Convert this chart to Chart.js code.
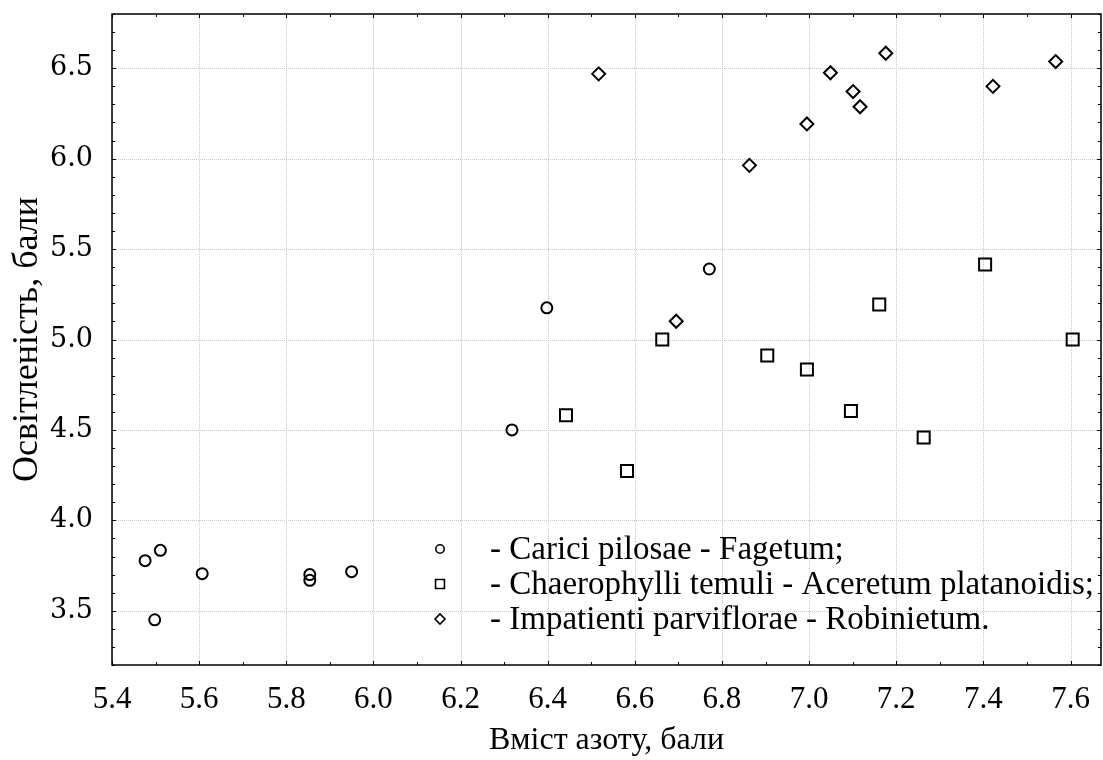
<!DOCTYPE html>
<html>
<head>
<meta charset="utf-8">
<script src="https://cdn.jsdelivr.net/npm/chart.js@4/dist/chart.umd.min.js"></script>
<style>
  html, body { margin: 0; padding: 0; background: #fff; }
  #wrap { width: 1103px; height: 760px; }
</style>
</head>
<body>
<div id="wrap"><canvas id="scatter"></canvas></div>
<script>
// Carici pilosae - Fagetum
const circleX = [5.476, 5.511, 5.607, 5.854, 5.854, 5.950, 5.498, 6.318, 6.398, 6.771];
const circleY = [3.777, 3.834, 3.705, 3.700, 3.668, 3.716, 3.450, 4.500, 5.175, 5.390];
// Chaerophylli temuli - Aceretum platanoidis
const squareX = [6.442, 6.582, 6.663, 6.904, 6.995, 7.096, 7.161, 7.263, 7.404, 7.605];
const squareY = [4.581, 4.273, 5.000, 4.912, 4.834, 4.605, 5.194, 4.458, 5.415, 5.000];
// Impatienti parviflorae - Robinietum
const diamondX = [6.517, 6.695, 6.863, 6.995, 7.049, 7.101, 7.117, 7.176, 7.422, 7.566];
const diamondY = [6.469, 5.101, 5.963, 6.192, 6.475, 6.371, 6.287, 6.583, 6.400, 6.537];

const seriesLabels = [
  "- Carici pilosae - Fagetum;",
  "- Chaerophylli temuli - Aceretum platanoidis;",
  "- Impatienti parviflorae - Robinietum."
];
const xTicks = [5.4, 5.6, 5.8, 6.0, 6.2, 6.4, 6.6, 6.8, 7.0, 7.2, 7.4, 7.6];
const yTicks = [3.5, 4.0, 4.5, 5.0, 5.5, 6.0, 6.5];
const xTitle = "Вміст азоту, бали";
const yTitle = "Освітленість, бали";

const toPoints = (xs, ys) => xs.map((x, i) => ({ x: x, y: ys[i] }));

// grid, frame and inward ticks
const framePlugin = {
  id: "frame",
  beforeDatasetsDraw(chart) {
    const { ctx, chartArea: a, scales } = chart;
    const xs = scales.x, ys = scales.y;
    ctx.save();
    ctx.strokeStyle = "#c8c8c8";
    ctx.lineWidth = 1;
    ctx.setLineDash([1, 1]);
    xTicks.forEach(v => {
      const px = Math.round(xs.getPixelForValue(v)) + 0.5;
      ctx.beginPath(); ctx.moveTo(px, a.top); ctx.lineTo(px, a.bottom); ctx.stroke();
    });
    yTicks.forEach(v => {
      const py = Math.round(ys.getPixelForValue(v)) + 0.5;
      ctx.beginPath(); ctx.moveTo(a.left, py); ctx.lineTo(a.right, py); ctx.stroke();
    });
    ctx.setLineDash([]);
    ctx.strokeStyle = "#000";
    ctx.lineWidth = 1;
    // minor ticks every 0.1
    for (let k = Math.ceil(xs.min * 10); k <= Math.floor(xs.max * 10); k++) {
      const px = Math.round(xs.getPixelForValue(k / 10)) + 0.5;
      const len = k % 2 === 0 ? 4 : 3;
      ctx.beginPath();
      ctx.moveTo(px, a.bottom); ctx.lineTo(px, a.bottom - len);
      ctx.moveTo(px, a.top); ctx.lineTo(px, a.top + len);
      ctx.stroke();
    }
    for (let k = Math.ceil(ys.min * 10); k <= Math.floor(ys.max * 10); k++) {
      const py = Math.round(ys.getPixelForValue(k / 10)) + 0.5;
      const len = k % 5 === 0 ? 4 : 3;
      ctx.beginPath();
      ctx.moveTo(a.left, py); ctx.lineTo(a.left + len, py);
      ctx.moveTo(a.right, py); ctx.lineTo(a.right - len, py);
      ctx.stroke();
    }
    ctx.lineWidth = 1.5;
    ctx.strokeRect(a.left, a.top, a.right - a.left, a.bottom - a.top);
    ctx.restore();
  }
};

// legend inside the plot
const legendPlugin = {
  id: "innerLegend",
  afterDraw(chart) {
    const { ctx, chartArea: a } = chart;
    const styles = ["circle", "rect", "rectRot"];
    const radii = [4.2, 6.3, 5];
    ctx.save();
    ctx.font = "33px 'Liberation Serif'";
    ctx.textBaseline = "middle";
    ctx.lineWidth = 1.6;
    seriesLabels.forEach((label, i) => {
      const y = a.top + 535 + i * 35;
      ctx.fillStyle = "#fff";
      ctx.strokeStyle = "#000";
      Chart.helpers.drawPoint(ctx, { pointStyle: styles[i], radius: radii[i], borderWidth: 1.6 }, a.left + 328, y);
      ctx.fillStyle = "#000";
      ctx.fillText(label, a.left + 378, y + 1);
    });
    ctx.restore();
  }
};

const ds = (label, xs, ys, style, r) => ({
  label: label,
  data: toPoints(xs, ys),
  pointStyle: style,
  pointRadius: r,
  pointHoverRadius: r,
  pointBorderWidth: 2,
  pointBorderColor: "#000",
  pointBackgroundColor: "rgba(0,0,0,0)",
  showLine: false
});

new Chart(document.getElementById("scatter"), {
  type: "scatter",
  data: {
    datasets: [
      ds(seriesLabels[0], circleX, circleY, "circle", 5.5),
      ds(seriesLabels[1], squareX, squareY, "rect", 8.5),
      ds(seriesLabels[2], diamondX, diamondY, "rectRot", 6.5)
    ]
  },
  options: {
    responsive: true,
    maintainAspectRatio: false,
    animation: false,
    layout: { autoPadding: false, padding: { top: 14, right: 2, left: 0, bottom: 0 } },
    plugins: {
      legend: { display: false },
      tooltip: { enabled: false }
    },
    scales: {
      x: {
        type: "linear",
        min: 5.4,
        max: 7.67,
        afterBuildTicks: s => { s.ticks = xTicks.map(v => ({ value: v })); },
        afterFit: s => { s.height = 95; s.paddingLeft = 0; s.paddingRight = 0; },
        grid: { display: false },
        border: { display: false },
        ticks: {
          color: "#000",
          padding: 8,
          font: { family: "'Liberation Serif'", size: 31 },
          callback: v => v.toFixed(1)
        },
        title: {
          display: true,
          text: xTitle,
          color: "#000",
          font: { family: "'Liberation Serif'", size: 32 },
          padding: { top: 0, bottom: 0 }
        }
      },
      y: {
        type: "linear",
        min: 3.2,
        max: 6.8,
        afterBuildTicks: s => { s.ticks = yTicks.map(v => ({ value: v })); },
        afterFit: s => { s.width = 112; s.paddingTop = 0; s.paddingBottom = 0; },
        grid: { display: false },
        border: { display: false },
        ticks: {
          color: "#000",
          padding: 11,
          font: { family: "'DejaVu Serif'", size: 27 },
          callback: v => v.toFixed(1)
        },
        title: {
          display: true,
          text: yTitle,
          color: "#000",
          font: { family: "'Liberation Serif'", size: 36 },
          padding: { top: 6, bottom: 0 }
        }
      }
    }
  },
  plugins: [framePlugin, legendPlugin]
});
</script>
</body>
</html>
